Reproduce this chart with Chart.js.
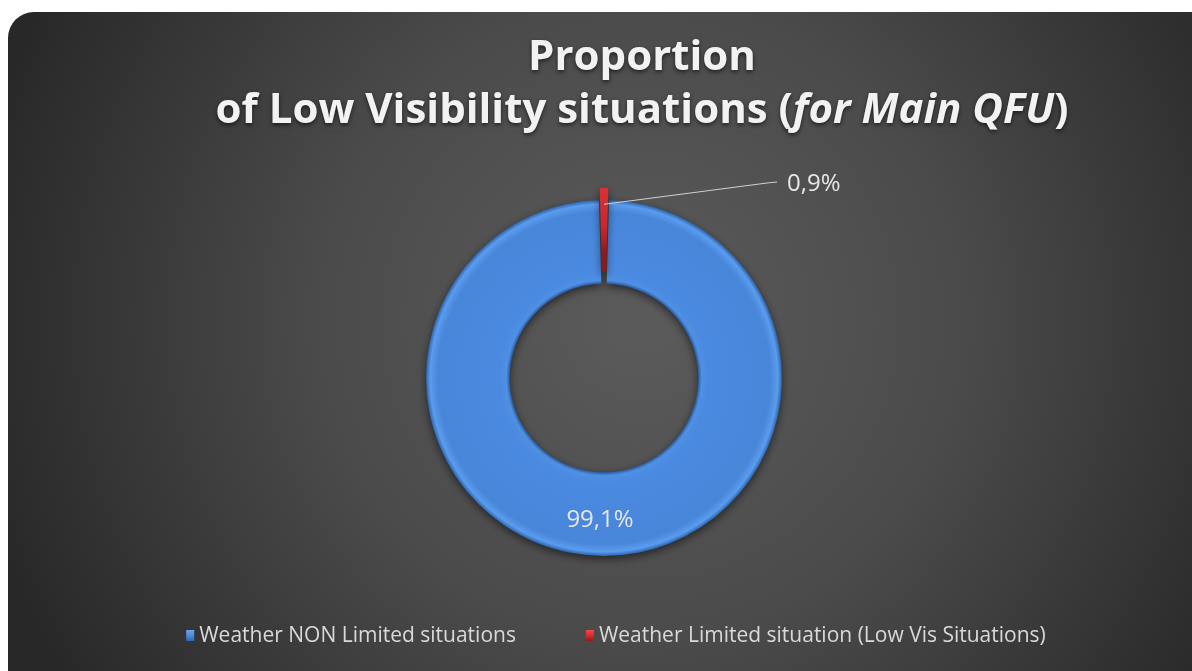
<!DOCTYPE html>
<html>
<head>
<meta charset="utf-8">
<script src="https://cdn.jsdelivr.net/npm/chart.js@4"></script>
<style>
  html, body { margin: 0; padding: 0; background: #fff; }
  canvas { display: block; }
</style>
</head>
<body>
<canvas id="chart-donut" width="1192" height="671"></canvas>
<script>
// data
const labels = ['Weather NON Limited situations', 'Weather Limited situation (Low Vis Situations)'];
const values = [99.1, 0.9];
const colors = ['#4a89dc', '#d42a2c'];
const offsets = [0, 25];
const titleLine1 = 'Proportion';
const titleLine2 = ['of Low Visibility situations (', 'for Main QFU', ')'];

const FONT = '"Open Sans", "DejaVu Sans", sans-serif';
const RADIUS = 178;
const CUTOUT = 0.53;

function fmt(v) {
    return v.toFixed(1).replace('.', ',') + '%';
}

// ____ card background ____
const cardBg = {
    id: 'cardBg',
    beforeDraw(chart) {
        let ctx = chart.ctx;
        ctx.save();
        ctx.fillStyle = '#fff';
        ctx.fillRect(0, 0, chart.width, chart.height);
        let g = ctx.createRadialGradient(640, 320, 20, 640, 320, 680);
        g.addColorStop(0, '#5a5a5a');
        g.addColorStop(0.45, '#4b4b4b');
        g.addColorStop(1, '#282828');
        ctx.fillStyle = g;
        ctx.beginPath();
        ctx.roundRect(8, 12, chart.width + 30, chart.height + 30, 26);
        ctx.fill();
        ctx.restore();
    }
};

// ____ shadow under the ring ____
const ringShadow = {
    id: 'ringShadow',
    beforeDatasetsDraw(chart) {
        let ctx = chart.ctx;
        ctx.save();
        ctx.shadowColor = 'rgba(0,0,0,0.55)';
        ctx.shadowBlur = 8;
        ctx.shadowOffsetY = 3;
    },
    afterDatasetsDraw(chart) {
        chart.ctx.restore();
    }
};

// ____ title (mixed italic) ____
const titlePlugin = {
    id: 'titlePlugin',
    afterDraw(chart) {
        let ctx = chart.ctx;
        let cx = 642;
        ctx.save();
        ctx.fillStyle = '#f2f2f2';
        ctx.shadowColor = 'rgba(0,0,0,0.6)';
        ctx.shadowBlur = 4;
        ctx.shadowOffsetY = 2;
        ctx.textBaseline = 'middle';
        ctx.textAlign = 'left';
        let normal = 'bold 42px ' + FONT;
        let italic = 'italic bold 42px ' + FONT;

        ctx.font = normal;
        let w1 = ctx.measureText(titleLine1).width;
        ctx.fillText(titleLine1, cx - w1 / 2, 58);

        let fonts = [normal, italic, normal];
        let widths = titleLine2.map(function (t, i) {
            ctx.font = fonts[i];
            return ctx.measureText(t).width;
        });
        let x = cx - widths.reduce((a, b) => a + b, 0) / 2;
        titleLine2.forEach(function (t, i) {
            ctx.font = fonts[i];
            ctx.fillText(t, x, 111);
            x += widths[i];
        });
        ctx.restore();
    }
};

// ____ data labels ____
const sliceLabels = {
    id: 'sliceLabels',
    afterDatasetsDraw(chart) {
        let ctx = chart.ctx;
        let meta = chart.getDatasetMeta(0);
        ctx.save();
        ctx.font = '24px ' + FONT;
        ctx.fillStyle = '#e6e6e6';
        ctx.textBaseline = 'middle';
        meta.data.forEach(function (arc, i) {
            let p = arc.getProps(['x', 'y', 'startAngle', 'endAngle', 'innerRadius', 'outerRadius']);
            let mid = (p.startAngle + p.endAngle) / 2;
            let off = offsets[i];
            if (values[i] > 5) {
                let r = (p.innerRadius + p.outerRadius) / 2 + off;
                ctx.textAlign = 'center';
                ctx.fillText(fmt(values[i]), p.x + Math.cos(mid) * r - 4, p.y + Math.sin(mid) * r + 6);
            } else {
                // small slice: label outside with leader line
                let r = p.innerRadius + off + (p.outerRadius - p.innerRadius) * 0.65;
                let sx = p.x + Math.cos(mid) * r;
                let sy = p.y + Math.sin(mid) * r;
                let ex = p.x + p.outerRadius - 5;
                let ey = p.y - p.outerRadius - off + 8;
                ctx.strokeStyle = '#d0d0d0';
                ctx.lineWidth = 1;
                ctx.beginPath();
                ctx.moveTo(sx, sy);
                ctx.lineTo(ex - 10, ey);
                ctx.lineTo(ex, ey - 1);
                ctx.stroke();
                ctx.textAlign = 'left';
                ctx.fillText(fmt(values[i]), ex + 10, ey + 1);
            }
        });
        ctx.restore();
    }
};

// ____ legend ____
const legendPlugin = {
    id: 'legendPlugin',
    afterDraw(chart) {
        let ctx = chart.ctx;
        ctx.save();
        ctx.font = '21px ' + FONT;
        ctx.textBaseline = 'middle';
        ctx.textAlign = 'left';
        let marker = 9, pad = 4, gap = 70;
        let widths = labels.map(l => ctx.measureText(l).width);
        let total = widths.reduce((a, b) => a + b, 0) + labels.length * (marker + pad) + gap * (labels.length - 1);
        let x = 616 - total / 2;
        let y = 636;
        labels.forEach(function (l, i) {
            let g = ctx.createLinearGradient(0, y - 6, 0, y + 6);
            g.addColorStop(0, i === 0 ? '#6aa6f0' : '#f04a4c');
            g.addColorStop(0.5, colors[i]);
            g.addColorStop(1, i === 0 ? '#2a5ea8' : '#8e1618');
            ctx.fillStyle = g;
            ctx.fillRect(x, y - 6, marker - 1, 11);
            ctx.fillStyle = '#d9d9d9';
            ctx.fillText(l, x + marker + pad, y);
            x += marker + pad + widths[i] + gap;
        });
        ctx.restore();
    }
};

function ringGradient(context) {
    let chart = context.chart;
    let i = context.dataIndex;
    let area = chart.chartArea;
    if (!area) return colors[i];
    let cx = (area.left + area.right) / 2;
    let cy = (area.top + area.bottom) / 2;
    let inner = RADIUS * CUTOUT + offsets[i], outer = RADIUS + offsets[i];
    let g = chart.ctx.createRadialGradient(cx, cy, inner, cx, cy, outer);
    if (i === 0) {
        g.addColorStop(0, '#2b5a9e');
        g.addColorStop(0.04, '#4f90e4');
        g.addColorStop(0.12, '#4a8ae0');
        g.addColorStop(0.86, '#4886d9');
        g.addColorStop(0.95, '#5a9cee');
        g.addColorStop(1, '#2e63ab');
    } else {
        g.addColorStop(0, '#8e1a1c');
        g.addColorStop(0.3, '#c8292b');
        g.addColorStop(0.9, '#dc3436');
        g.addColorStop(1, '#9a1c1e');
    }
    return g;
}

new Chart(
    document.getElementById('chart-donut'),
    {
        type: 'doughnut',
        data: {
            labels: labels,
            datasets: [{
                data: values,
                backgroundColor: ringGradient,
                borderWidth: 0,
                offset: offsets,
                radius: RADIUS,
            }]
        },
        options: {
            responsive: false,
            animation: false,
            events: [],
            cutout: (CUTOUT * 100) + '%',
            rotation: values[1] / 100 * 180,
            layout: { padding: { left: 16, right: 0, top: 140, bottom: 55 } },
            plugins: {
                legend: { display: false },
                title: { display: false },
                tooltip: { enabled: false },
            }
        },
        plugins: [cardBg, ringShadow, sliceLabels, titlePlugin, legendPlugin]
    }
);
</script>
</body>
</html>
